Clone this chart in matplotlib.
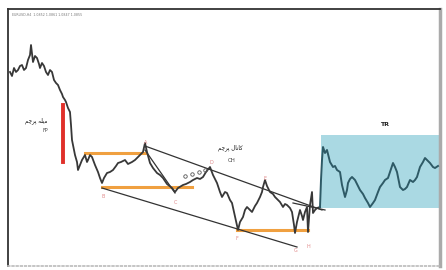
import matplotlib.pyplot as plt
from matplotlib.patches import Rectangle

plt.rcParams['font.family'] = ['DejaVu Sans']

# price path: bar index and close price
bars = [2, 4, 6, 8, 10, 12, 14, 16, 18, 20, 22, 23, 25, 27, 29, 31, 32, 34, 36, 38, 40, 42, 44, 46,
        48, 50, 52, 54, 55, 57, 58, 60, 62, 63, 64, 66, 67, 69, 70, 72, 74, 77, 79, 80, 82, 84, 87,
        90, 92, 94, 96, 99, 102, 105, 108, 110, 113, 117, 120, 124, 127, 129, 132, 135, 137, 139,
        142, 145, 149, 152, 155, 159, 164, 167, 170, 175, 178, 182, 185, 189, 192, 195, 198, 202,
        205, 209, 212, 214, 217, 219, 222, 224, 226, 227, 229, 230, 232, 235, 237, 239, 242, 244,
        247, 249, 252, 254, 255, 257, 259, 262, 265, 267, 270, 272, 275, 277, 279, 282, 284, 286,
        287, 289, 292, 294, 295, 297, 299, 300, 302, 304, 305, 307, 309, 312]
close = [194, 190, 198, 194, 196, 200, 201, 196, 198, 206, 211, 221, 204, 210, 208, 202, 198, 203,
         200, 194, 191, 196, 194, 186, 183, 181, 176, 172, 169, 166, 164, 158, 154, 141, 126, 116,
         111, 104, 96, 101, 106, 111, 104, 106, 111, 109, 101, 94, 88, 83, 88, 93, 94, 96, 100, 103,
         104, 106, 102, 104, 106, 108, 111, 114, 123, 114, 103, 98, 93, 91, 88, 82, 78, 74, 78, 81,
         82, 84, 86, 88, 87, 89, 94, 99, 91, 83, 74, 69, 74, 73, 66, 63, 54, 49, 41, 36, 44, 49, 56,
         59, 56, 54, 60, 63, 69, 74, 79, 86, 80, 74, 72, 69, 66, 64, 59, 62, 61, 58, 54, 41, 33, 44,
         56, 50, 46, 54, 59, 34, 61, 74, 53, 56, 58, 59]
bars_tr = [312, 313, 314, 315, 317, 319, 321, 322, 325, 327, 329, 332, 334, 337, 339, 340, 342,
           344, 347, 350, 352, 355, 357, 360, 362, 365, 367, 370, 372, 375, 377, 380, 382, 385,
           387, 389, 392, 395, 397, 399, 402, 405, 407, 409, 412, 415, 417, 420, 422, 425, 427, 430]
close_tr = [59, 86, 106, 119, 113, 116, 108, 104, 99, 100, 96, 94, 81, 69, 76, 83, 87, 89, 86, 80,
            76, 72, 68, 63, 59, 63, 66, 74, 79, 83, 86, 88, 94, 103, 99, 94, 79, 76, 77, 79, 86, 84,
            86, 89, 99, 104, 108, 105, 103, 99, 98, 100]

pole_bar, pole_lo, pole_hi = 55, 104, 161
orange_levels = [(77, 137, 113), (94, 184, 79), (229, 300, 36)]
channel = [((137, 120), (314, 56)), ((94, 78), (289, 19)), ((137, 116), (167, 73)),
           ((285, 63), (317, 56))]
swing_labels = [('A', 138, 124), ('B', 95, 70), ('C', 167, 64), ('D', 203, 104),
                ('E', 257, 88), ('F', 229, 28), ('G', 288, 15), ('H', 300, 20)]
box = (313, 58, 432, 131)

fig = plt.figure(figsize=(4.46, 2.70), dpi=100)
ax = fig.add_axes([8 / 446, 4 / 270, 432 / 446, 257 / 270])
ax.set_xlim(0, 432)
ax.set_ylim(0, 257)
ax.set_xticks([])
ax.set_yticks([])

for s in ['top', 'left']:
    ax.spines[s].set_color('#333333')
    ax.spines[s].set_linewidth(1.3)
ax.spines['right'].set_color('#aaaaaa')
ax.spines['right'].set_linewidth(2.5)
ax.spines['right'].set_linestyle((0, (1.5, 1)))
ax.spines['bottom'].set_color('#bbbbbb')
ax.spines['bottom'].set_linewidth(1.2)
ax.spines['bottom'].set_linestyle((0, (1, 1.5)))

ax.add_patch(Rectangle((box[0], box[1]), box[2] - box[0], box[3] - box[1],
                       facecolor='#aad9e3', edgecolor='none', zorder=1))

for x0, x1, y in orange_levels:
    ax.plot([x0, x1], [y, y], color='#f0a040', lw=2.2, zorder=2)

for (x0, y0), (x1, y1) in channel:
    ax.plot([x0, x1], [y0, y1], color='#333333', lw=0.9, zorder=2)

ax.plot([pole_bar, pole_bar], [pole_lo, pole_hi], color='#e0302a', lw=2.8, zorder=3)

ax.plot(bars, close, color='#383838', lw=1.3, zorder=4)
ax.plot(bars_tr, close_tr, color='#2e5a66', lw=1.4, zorder=4)

ax.plot([177, 184, 191, 197], [90, 92, 94, 96], ls='none', marker='o', ms=2.5,
        mfc='none', mec='#555555', mew=0.6, zorder=5)

for t, x, y in swing_labels:
    ax.text(x, y, t, fontsize=3.5, color='#e08a8a', ha='center', va='center', zorder=6)

ax.text(4, 251, 'EURUSD,H4  1.0852 1.0861 1.0847 1.0855', fontsize=2.3, color='#777777',
        ha='left', va='center')

# Persian labels, written in visual (shaped) order
ax.text(28, 145, '\ufee2\ufb7c\ufeae\ufb58 \ufeea\ufee0\ufbfe\ufee3', fontsize=4,
        color='#111111', ha='center', va='center')
ax.text(37, 135, 'FP', fontsize=3.5, color='#444444', ha='center', va='center')
ax.text(222, 118, '\ufee2\ufb7c\ufeae\ufb58 \ufedd\ufe8e\ufee7\ufe8e\ufb90', fontsize=4,
        color='#111111', ha='center', va='center')
ax.text(224, 106, 'CH', fontsize=4, color='#444444', ha='center', va='center')
ax.text(377, 142, 'TR', fontsize=4.5, color='#222222', ha='center', va='center',
        fontweight='bold')

fig.savefig('out.png', dpi=100, facecolor='white')
